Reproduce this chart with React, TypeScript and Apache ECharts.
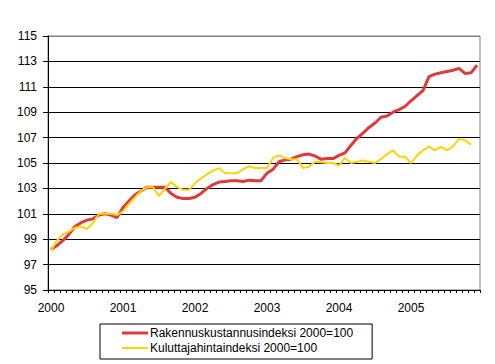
import React, { useEffect, useRef } from "react";
import * as echarts from "echarts";

const years = ["2000", "2001", "2002", "2003", "2004", "2005"];
const months = years.flatMap((y) =>
  Array.from({ length: 12 }, (_, m) => `${y}-${String(m + 1).padStart(2, "0")}`)
);

const yTicks = { min: 95, max: 115, interval: 2 };

const rakennusName = "Rakennuskustannusindeksi 2000=100";
const kuluttajaName = "Kuluttajahintaindeksi 2000=100";

const rakennus = [
  98.2, 98.5, 98.9, 99.4, 100.0, 100.3, 100.5, 100.6, 100.9, 101.0, 100.9, 100.7,
  101.5, 102.0, 102.5, 102.8, 103.1, 103.1, 103.1, 103.1, 102.6, 102.3, 102.2, 102.2,
  102.3, 102.6, 103.0, 103.3, 103.5, 103.55, 103.6, 103.6, 103.55, 103.65, 103.6, 103.6,
  104.2, 104.5, 105.1, 105.25, 105.3, 105.5, 105.65, 105.7, 105.55, 105.3, 105.35, 105.35,
  105.6, 105.8, 106.4, 106.95, 107.35, 107.8, 108.15, 108.6, 108.7, 109.0, 109.2, 109.45,
  109.9, 110.3, 110.7, 111.8, 112.0, 112.1, 112.2, 112.3, 112.45, 112.05, 112.1, 112.7,
];

const kuluttaja = [
  98.1, 98.9, 99.4, 99.6, 99.9, 100.0, 99.8, 100.3, 101.0, 101.0, 101.0, 100.9,
  101.2, 101.8, 102.3, 102.8, 103.1, 103.1, 102.4, 103.0, 103.5, 103.1, 102.9, 102.9,
  103.4, 103.8, 104.1, 104.4, 104.6, 104.2, 104.2, 104.2, 104.5, 104.75, 104.6, 104.6,
  104.6, 105.4, 105.6, 105.4, 105.3, 105.3, 104.6, 104.7, 105.1, 105.05, 105.0, 105.0,
  104.8, 105.4, 105.0, 105.1, 105.2, 105.1, 105.0, 105.3, 105.7, 106.0, 105.5, 105.5,
  105.0, 105.6, 106.0, 106.3, 106.0, 106.3, 106.0, 106.3, 106.9, 106.8, 106.45, null,
];

const FONT = "Arial, 'Liberation Sans', sans-serif";
const RED = "#e0383b";
const YELLOW = "#ffd400";

export default function App() {
  const ref = useRef<HTMLDivElement>(null);

  useEffect(() => {
    document.body.style.margin = "0";
    if (!ref.current) return;
    const chart = echarts.init(ref.current, undefined, { renderer: "svg" });
    const splitColors: string[] = [];
    for (let v = yTicks.min; v <= yTicks.max; v += yTicks.interval) {
      splitColors.push(v === yTicks.max ? "#808080" : "#000000");
    }
    chart.setOption({
      animation: false,
      backgroundColor: "#ffffff",
      grid: {
        left: 48,
        top: 36,
        right: 15,
        bottom: 74,
        show: true,
        borderColor: "#808080",
        borderWidth: 1,
        backgroundColor: "transparent",
      },
      legend: {
        orient: "vertical",
        left: 100,
        top: 324,
        itemWidth: 26,
        itemHeight: 14,
        itemGap: 1,
        padding: [2, 19, 4, 22],
        borderColor: "#000000",
        borderWidth: 1,
        borderRadius: 0,
        textStyle: { fontSize: 12, fontFamily: FONT, color: "#000000", padding: [0, 0, 0, -3] },
        data: [
          {
            name: rakennusName,
            icon: "path://M0,0M26,14M0,5.5L26,5.5L26,8.5L0,8.5Z",
            itemStyle: { color: RED, borderWidth: 0 },
          },
          {
            name: kuluttajaName,
            icon: "path://M0,0M26,14M0,6L26,6L26,8L0,8Z",
            itemStyle: { color: YELLOW, borderWidth: 0 },
          },
        ],
      },
      xAxis: {
        type: "category",
        data: months,
        boundaryGap: true,
        axisLine: { lineStyle: { color: "#000000", width: 1 } },
        axisTick: { show: true, interval: 0, length: 3, lineStyle: { color: "#000000" } },
        axisLabel: {
          interval: (index: number) => index % 12 === 0,
          formatter: (v: string) => v.slice(0, 4),
          fontSize: 12,
          fontFamily: FONT,
          color: "#000000",
          margin: 12,
        },
        splitLine: { show: false },
      },
      yAxis: {
        type: "value",
        min: yTicks.min,
        max: yTicks.max,
        interval: yTicks.interval,
        axisLine: { show: true, lineStyle: { color: "#000000", width: 1 } },
        axisTick: { show: true, length: 5, lineStyle: { color: "#000000" } },
        axisLabel: { fontSize: 12, fontFamily: FONT, color: "#000000", margin: 11 },
        splitLine: { show: true, lineStyle: { color: splitColors, width: 1 } },
      },
      series: [
        {
          name: rakennusName,
          type: "line",
          data: rakennus,
          symbol: "none",
          lineStyle: { color: RED, width: 3 },
          itemStyle: { color: RED },
        },
        {
          name: kuluttajaName,
          type: "line",
          data: kuluttaja,
          symbol: "none",
          lineStyle: { color: YELLOW, width: 2 },
          itemStyle: { color: YELLOW },
        },
      ],
    });
    return () => chart.dispose();
  }, []);

  return <div ref={ref} style={{ width: 495, height: 364 }} />;
}
